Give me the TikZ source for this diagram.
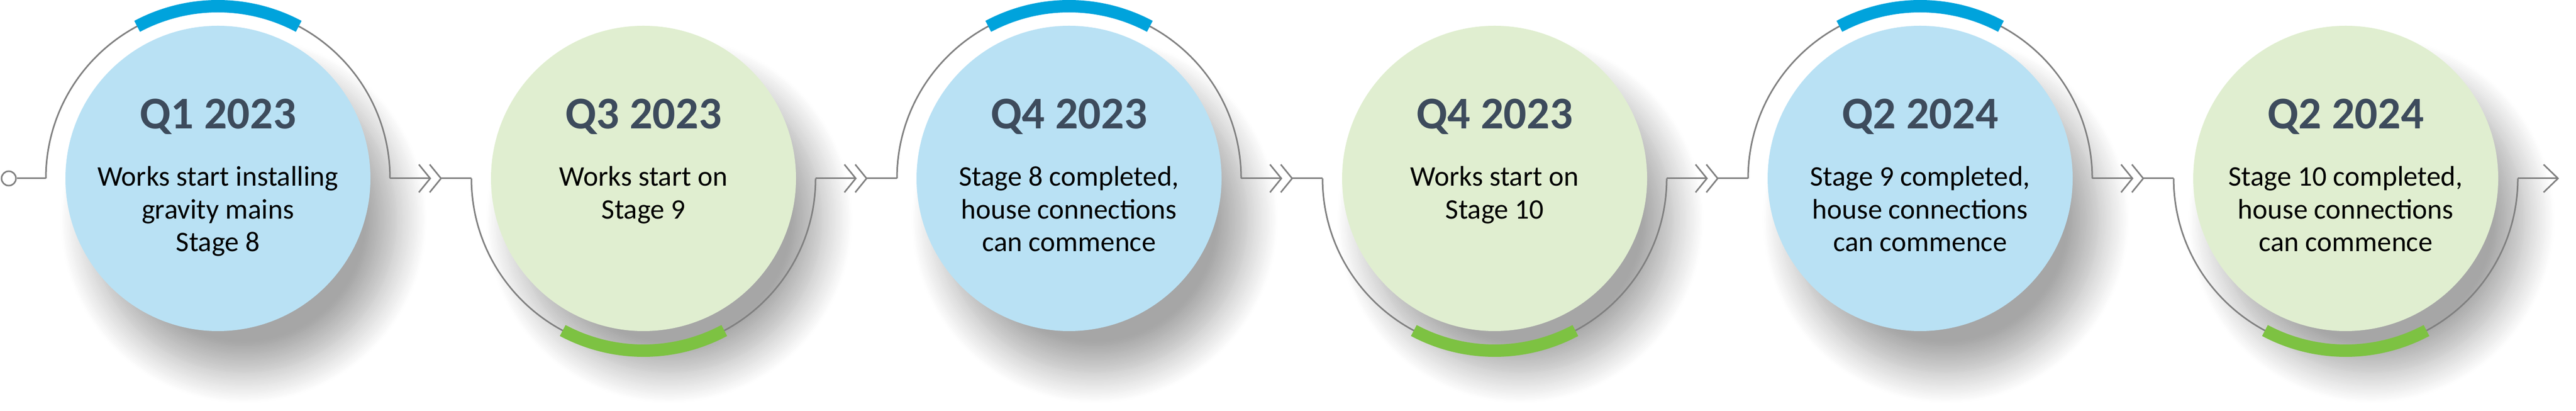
\documentclass[tikz,border=0pt]{standalone}
\usepackage{fontspec}
\setmainfont{Carlito}
\usetikzlibrary{shadows.blur,calc}
\definecolor{bfill}{HTML}{B9E1F4}
\definecolor{gfill}{HTML}{E0EED0}
\definecolor{barc}{HTML}{00A3DC}
\definecolor{garc}{HTML}{7DC242}
\definecolor{ttl}{HTML}{3D4B5C}
\definecolor{lin}{HTML}{808080}
\tikzset{
  disc/.style={circle,minimum size=5.92cm,inner sep=0pt,draw=none,
    blur shadow={shadow xshift=0.5cm,shadow yshift=-0.8cm,shadow blur radius=0.6cm,shadow opacity=35,shadow blur steps=20}},
  ttlsty/.style={font=\bfseries\fontsize{0.88cm}{0.95cm}\selectfont,text=ttl},
  bodysty/.style={font=\fontsize{0.55cm}{0.635cm}\selectfont,align=center,anchor=north},
  gline/.style={draw=lin,line width=0.03cm},
  band/.style={line width=0.24cm}
}
\begin{document}
\begin{tikzpicture}
\useasboundingbox (0,0) rectangle (50,7.97);
\def\yc{4.51}
\foreach \i/\f/\t/\b in {0/bfill/Q1 2023/{Works start installing\\gravity mains\\Stage 8},
  1/gfill/Q3 2023/{Works start on\\Stage 9},
  2/bfill/Q4 2023/{Stage 8 completed,\\house connections\\can commence},
  3/gfill/Q4 2023/{Works start on\\Stage 10},
  4/bfill/Q2 2024/{Stage 9 completed,\\house connections\\can commence},
  5/gfill/Q2 2024/{Stage 10 completed,\\house connections\\can commence}}{
  \pgfmathsetmacro\xc{4.23+8.26*\i}
  \node[disc,fill=\f] (c\i) at (\xc,\yc) {};
  \node[ttlsty] (t\i) at ($(c\i)+(0,1.2)$) {\t};
  \node[bodysty] (b\i) at ($(c\i)+(0,0.36)$) {\b};
}
% arcs
\foreach \i in {0,2,4}{
  \draw[gline] ($(c\i)+(-3.34,0)$) arc[start angle=180,end angle=0,radius=3.34];
  \draw[band,barc] ($(c\i)+(118:3.34)$) arc[start angle=118,end angle=62,radius=3.34];
}
\foreach \i in {1,3,5}{
  \draw[gline] ($(c\i)+(-3.34,0)$) arc[start angle=180,end angle=360,radius=3.34];
  \draw[band,garc] ($(c\i)+(242:3.34)$) arc[start angle=242,end angle=298,radius=3.34];
}
% start
\node[circle,draw=lin,line width=0.03cm,fill=white,minimum size=0.28cm,inner sep=0pt] (s) at (0.17,\yc) {};
\draw[gline] (s.east) -- ($(c0)+(-3.34,0)$);
% connectors
\foreach \i/\j in {0/1,1/2,2/3,3/4,4/5}{
  \coordinate (a\i) at ($(c\i)+(3.34,0)$);
  \coordinate (k\i) at ($(c\i)+(4.12,0)$);
  \coordinate (m\i) at ($(c\i)+(4.33,0)$);
  \draw[gline] (a\i) -- (k\i);
  \draw[gline] (m\i) -- ($(c\j)+(-3.34,0)$);
  \draw[gline] ($(k\i)+(-0.22,0.27)$) -- (k\i) -- ($(k\i)+(-0.22,-0.27)$);
  \draw[gline] ($(m\i)+(-0.22,0.27)$) -- (m\i) -- ($(m\i)+(-0.22,-0.27)$);
}
\coordinate (e) at (49.65,\yc);
\draw[gline] ($(c5)+(3.34,0)$) -- (e);
\draw[gline] ($(e)+(-0.28,0.27)$) -- (e) -- ($(e)+(-0.28,-0.27)$);
\end{tikzpicture}
\end{document}
